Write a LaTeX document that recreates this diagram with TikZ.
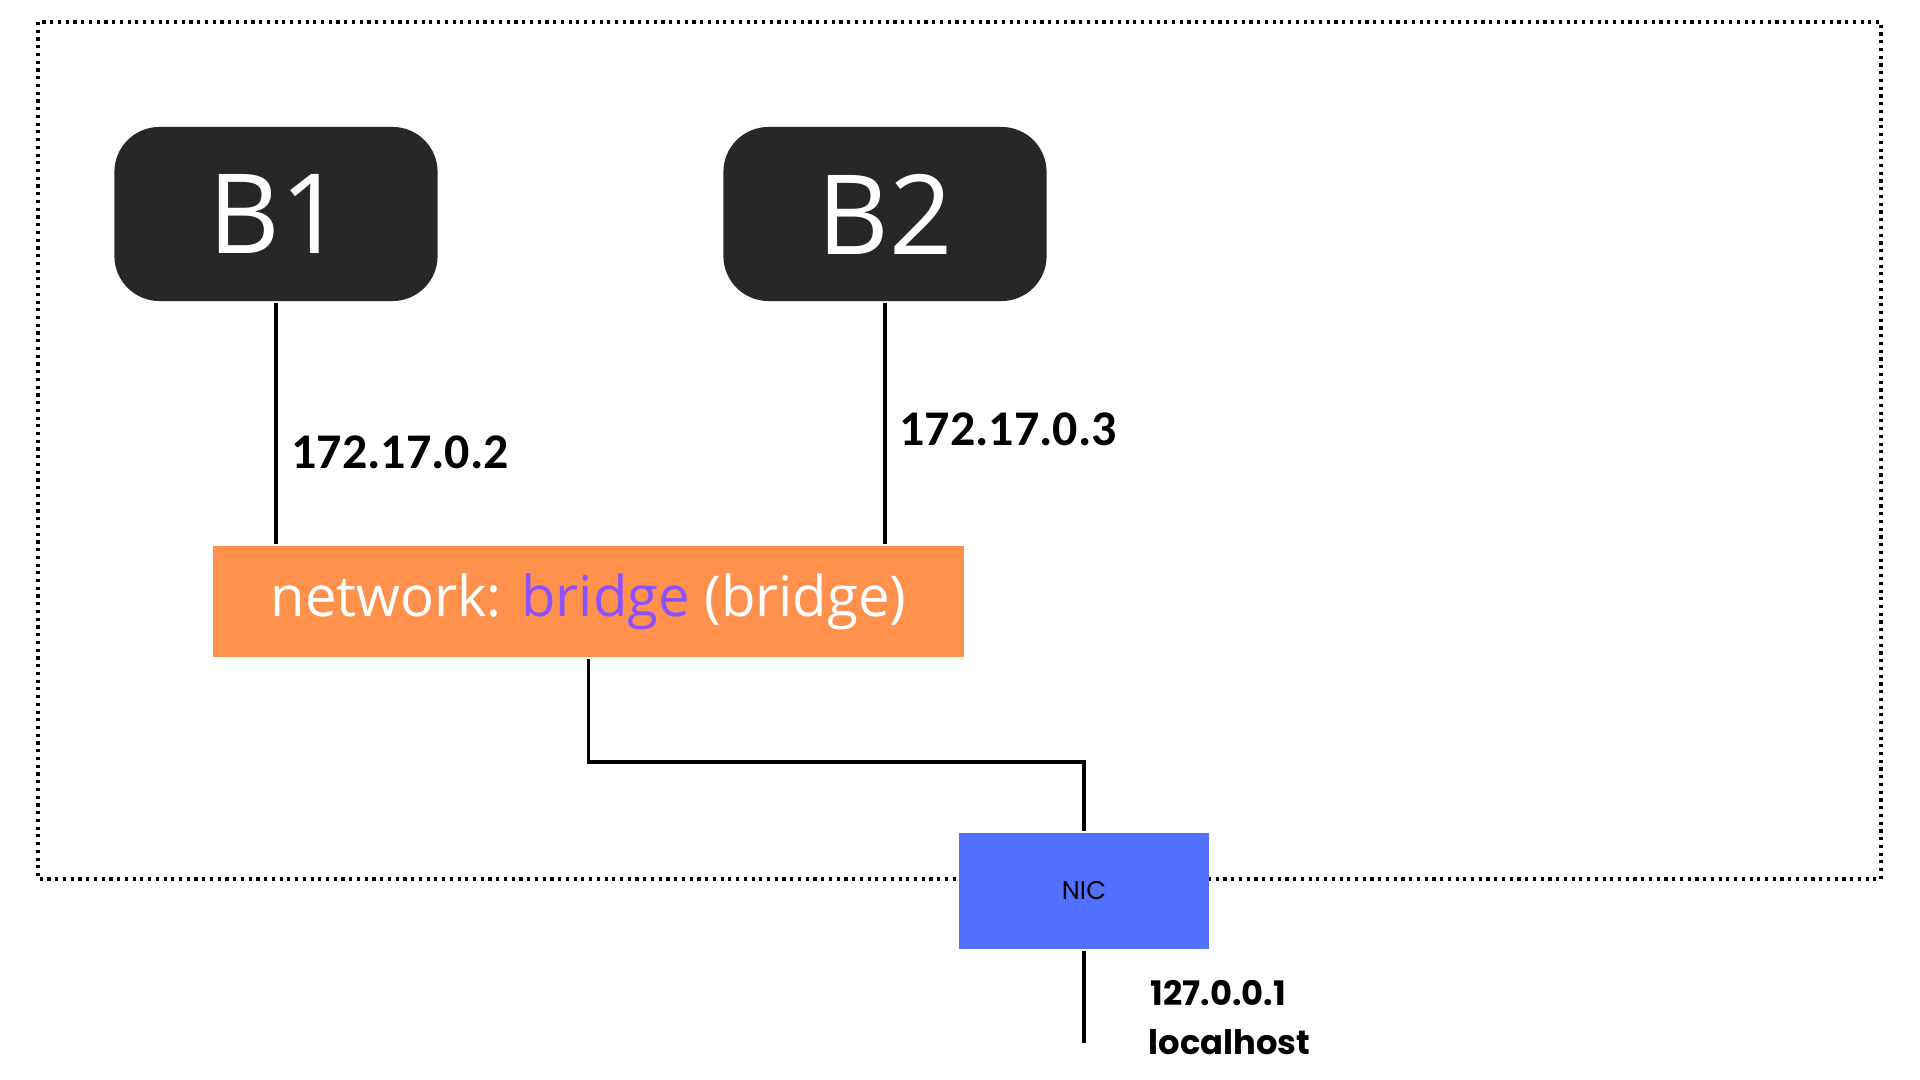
\documentclass[tikz,border=0pt]{standalone}
\usepackage{fontspec}
\usepackage{xcolor}
\setmainfont{Open Sans}
\newfontfamily\ipfont{Carlito}
\newfontfamily\popfont{Poppins}
\definecolor{hostgray}{HTML}{272727}
\definecolor{netorange}{HTML}{FF914D}
\definecolor{netpurple}{HTML}{8C52FF}
\definecolor{nicblue}{HTML}{5271FF}

\begin{document}
\begin{tikzpicture}
  [x=0.01cm,y=-0.01cm,line width=0.95pt,
   host/.style={rectangle,rounded corners=0.45cm,fill=hostgray,text=white,inner sep=0pt,
     minimum width=3.23cm,minimum height=1.74cm,font=\fontsize{31.5}{38}\selectfont},
   netbox/.style={rectangle,fill=netorange,text=white,inner sep=0pt,
     minimum width=7.51cm,minimum height=1.11cm,font=\fontsize{16}{19}\selectfont},
   nicbox/.style={rectangle,fill=nicblue,inner sep=0pt,
     minimum width=2.5cm,minimum height=1.16cm,font=\popfont\fontsize{7.3}{9}\selectfont},
   iplabel/.style={anchor=base west,inner sep=0pt,font=\ipfont\bfseries\fontsize{14.2}{17}\selectfont},
   hostlabel/.style={anchor=base west,inner sep=0pt,font=\popfont\bfseries\fontsize{9.6}{12}\selectfont}]
  \useasboundingbox (0,0) rectangle (1920,1080);

  % outer host border
  \draw[line width=0.9pt,dash pattern=on 0.9pt off 1.3pt] (38,22) rectangle (1881,879);

  \node[host] (b1) at (276,214) {B1};
  \node[host] (b2) at (885,214) {B2};
  \node[netbox] (net) at (588.5,601.5) {network: \textcolor{netpurple}{bridge} (bridge)};
  \node[nicbox] (nic) at (1084,891) {NIC};

  \node[iplabel] (ip1) at (290,469) {172.17.0.2};
  \node[iplabel] (ip2) at (898,446) {172.17.0.3};
  \node[hostlabel] (lo1) at (1149,1006) {127.0.0.1};
  \node[hostlabel] (lo2) at (1147,1055) {localhost};

  \foreach \from/\to in {b1/net, b2/net}
    \draw (\from.south) -- (\from.south |- \to.north);

  \coordinate (bend) at (1084,762);
  \coordinate (out) at (1084,1043);
  \draw (net.south) |- (bend) -- (nic.north);
  \draw (nic.south) -- (out);

\end{tikzpicture}
\end{document}
